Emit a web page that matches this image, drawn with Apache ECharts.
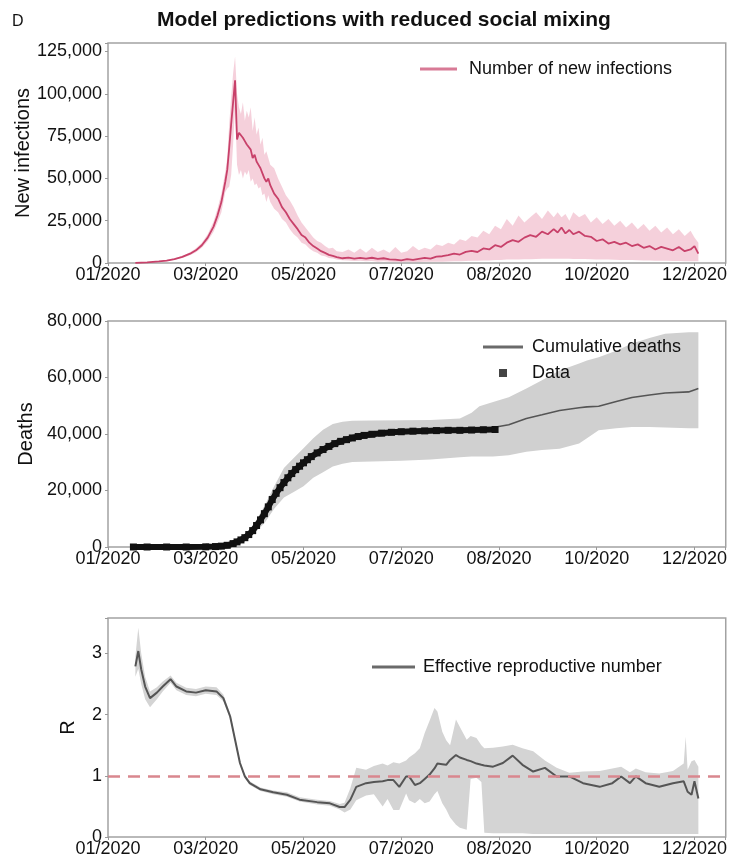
<!DOCTYPE html>
<html>
<head>
<meta charset="utf-8">
<script src="https://cdn.jsdelivr.net/npm/echarts@6/dist/echarts.min.js"></script>
<style>
  html, body { margin: 0; padding: 0; background: #fff; }
  #chart { width: 730px; height: 862px; }
</style>
</head>
<body>
<div id="chart"></div>
<script>
// x axis: days since start, one tick label every 50 days
var xTickLabels = ['01/2020', '03/2020', '05/2020', '07/2020', '08/2020', '10/2020', '12/2020'];

// panel 1 - new infections (thousands)
var infDays = [14, 20, 26, 30, 34, 38, 42, 45, 48, 51, 54, 56, 58, 60, 61, 62, 63, 64, 65, 66,
  67, 68, 69, 70, 71, 72, 73, 74, 75, 76, 77, 78, 79, 80, 81, 82, 83, 85, 87, 89,
  91, 93, 95, 97, 99, 101, 103, 105, 107, 109, 111, 113, 115, 117, 120, 123, 126, 129, 132, 135,
  138, 141, 144, 147, 150, 153, 156, 159, 162, 165, 168, 171, 174, 177, 180, 183, 186, 189, 192, 195,
  198, 201, 204, 207, 210, 213, 216, 219, 222, 225, 228, 230, 232, 234, 236, 238, 241, 244, 247, 250,
  253, 256, 259, 262, 265, 268, 271, 274, 277, 280, 283, 286, 289, 292, 295, 298, 300, 302];
var infMean = [0.1, 0.4, 0.9, 1.4, 2.3, 3.6, 5.5, 7.5, 10.5, 15, 21.5, 28, 36, 48, 55, 68, 82, 95, 108, 73,
  77, 78, 74, 72, 70, 71, 67, 62, 64, 60, 58, 56, 53, 50, 48, 50, 46, 41, 38, 33,
  30, 26, 23, 20, 16.5, 15, 12, 10, 8.5, 7, 6, 4.8, 4.2, 3.5, 2.8, 3.2, 2.6, 3.0, 2.6, 3.1,
  2.4, 2.8, 2.2, 2.0, 1.6, 2.3, 1.8, 2.4, 3.0, 2.6, 3.8, 4.0, 4.6, 5.5, 5.0, 6.6, 7.2, 6.5, 8.6, 8.0,
  10.5, 9.5, 12.0, 13.5, 12.5, 15.0, 16.5, 15.5, 18.5, 17.0, 20.0, 18.0, 21.0, 17.5, 19.5, 17.0, 18.5, 16.0, 15.5, 13.0,
  14.0, 11.5, 12.5, 11.0, 12.0, 10.0, 11.0, 9.0, 10.0, 8.0, 9.5, 8.5, 7.5, 9.5, 7.0, 8.0, 10.0, 5.5];
var infLo = [0, 0.3, 0.7, 1.1, 1.9, 3.0, 4.6, 6.4, 9.0, 13, 18.5, 24, 30, 42, 44, 45, 52, 70, 92, 58,
  52, 55, 50, 54, 52, 55, 48, 50, 46, 47, 44, 45, 40, 41, 36, 40, 36, 32, 30, 26,
  24, 20, 17, 15, 12, 11, 8.5, 7, 6, 4.5, 4, 3, 2.6, 2, 1.6, 1.5, 1.2, 1.3, 1.0, 1.2,
  0.8, 1.0, 0.7, 0.6, 0.5, 0.6, 0.5, 0.6, 0.7, 0.7, 0.8, 0.8, 0.9, 1.0, 1.0, 1.2, 1.3, 1.3, 1.5, 1.5,
  1.8, 1.8, 2.0, 2.0, 2.0, 2.2, 2.2, 2.3, 2.5, 2.5, 2.5, 2.5, 2.5, 2.5, 2.5, 2.4, 2.4, 2.3, 2.2, 2.1,
  2.0, 2.0, 1.9, 1.8, 1.8, 1.7, 1.6, 1.5, 1.5, 1.4, 1.4, 1.3, 1.2, 1.2, 1.1, 1.1, 1.0, 1.0];
var infHi = [0.2, 0.6, 1.1, 1.7, 2.7, 4.2, 6.4, 8.7, 12, 17, 24.5, 32, 41, 54, 62, 82, 98, 112, 122, 100,
  92, 88, 95, 84, 90, 86, 92, 78, 86, 76, 80, 70, 74, 64, 66, 62, 58, 56, 50, 45,
  40, 37, 33, 28, 24, 21, 18, 15, 13, 12, 10, 8.5, 9, 7, 6.5, 8, 6, 8.5, 6, 9,
  6.5, 8, 6, 9.5, 6, 7, 10, 7.5, 9, 8, 11, 10, 12, 11, 14, 13, 16, 15, 19, 17,
  22, 20, 26, 22, 28, 24, 27, 30, 26, 31, 27, 30, 27, 29, 25, 30, 27, 29, 24, 27,
  23, 26, 22, 25, 21, 24, 20, 23, 19, 22, 18, 21, 17, 20, 16, 19, 15, 12];

// panel 2 - deaths (thousands)
var deathDataDays = [13, 20, 30, 40, 50, 55, 58, 61, 64, 66, 68, 70, 72, 74, 76, 78, 80, 82, 84, 86,
  88, 90, 92, 94, 96, 98, 100, 102, 104, 107, 110, 113, 116, 119, 122, 125, 128, 131, 135, 140,
  145, 150, 156, 162, 168, 174, 180, 186, 192, 198];
var deathData = [0, 0, 0, 0, 0.05, 0.15, 0.3, 0.6, 1.2, 1.8, 2.5, 3.3, 4.4, 5.8, 7.6, 9.6, 11.8, 14.2, 16.8, 19.0,
  21.0, 22.8, 24.5, 26.0, 27.4, 28.6, 29.8, 30.9, 32.0, 33.3, 34.5, 35.6, 36.6, 37.4, 38.0, 38.6, 39.1, 39.5, 39.9, 40.3,
  40.6, 40.8, 41.0, 41.1, 41.2, 41.3, 41.3, 41.4, 41.5, 41.6];
var deathDays = [13, 60, 70, 75, 80, 85, 90, 95, 100, 105, 110, 115, 120, 125, 135, 150, 165, 180, 186, 190,
  197, 205, 214, 222, 231, 241, 245, 251, 260, 268, 277, 285, 297, 302];
var deathMean = [0, 0.4, 3.3, 6.7, 11.8, 17.9, 22.8, 26.7, 29.8, 32.4, 34.5, 36.3, 37.6, 38.6, 39.9, 40.8, 41.2, 41.3, 41.5, 41.7,
  42.3, 43.3, 45.5, 46.8, 48.3, 49.3, 49.6, 49.8, 51.5, 52.9, 53.8, 54.5, 54.9, 56.1];
var deathLo = [0, 0.2, 2.5, 5.0, 8.4, 13.5, 17.5, 19.5, 21.5, 24.5, 26.5, 28.5, 29.5, 30.1, 30.3, 30.5, 31.0, 31.8, 32.0, 32.0,
  32.0, 32.5, 33.7, 34.3, 34.8, 36.6, 38.5, 41.3, 42.0, 42.5, 42.5, 42.3, 42.0, 42.0];
var deathHi = [0, 0.6, 4.2, 8.5, 14.5, 21.5, 28.0, 31.5, 35.0, 38.5, 41.5, 43.5, 44.3, 44.7, 44.8, 44.9, 45.0, 45.5, 47.5, 49.8,
  51.3, 53.0, 56.1, 59.0, 62.5, 65.0, 66.0, 67.2, 69.5, 72.0, 74.0, 75.5, 76.0, 76.0];

// panel 3 - effective reproductive number
var rDays = [14, 15.5, 17, 19, 21.5, 25, 28, 32, 35, 40, 45, 50, 55.5, 59, 62.5, 65, 67.5, 70, 72.5, 78,
  84.5, 91.5, 98, 107, 113.5, 118.5, 121, 124, 127, 132, 136, 140.5, 143, 146, 149, 152.5, 154, 157, 159.5, 162,
  164.5, 167, 168.5, 171, 173, 175, 178, 180, 183.5, 185.5, 188.5, 191, 192.5, 197, 202, 207, 212, 217.5, 223.5, 229.5,
  236, 243, 251.5, 258, 262.5, 267, 270, 275, 282, 289, 294.5, 295.5, 296.5, 298.5, 300, 302];
var rMean = [2.79, 3.04, 2.74, 2.46, 2.27, 2.36, 2.46, 2.58, 2.46, 2.38, 2.36, 2.40, 2.38, 2.27, 1.97, 1.59, 1.21, 0.99, 0.88, 0.78,
  0.73, 0.69, 0.61, 0.57, 0.55, 0.49, 0.49, 0.61, 0.82, 0.88, 0.90, 0.91, 0.93, 0.93, 0.82, 0.99, 0.99, 0.85, 0.88, 0.95,
  1.02, 1.12, 1.20, 1.19, 1.18, 1.26, 1.34, 1.30, 1.26, 1.24, 1.20, 1.18, 1.17, 1.15, 1.21, 1.33, 1.18, 1.07, 1.13, 0.99,
  0.99, 0.88, 0.82, 0.88, 0.99, 0.88, 0.99, 0.88, 0.82, 0.88, 0.91, 0.92, 0.74, 0.69, 0.91, 0.63];
var rLo = [2.62, 2.75, 2.50, 2.25, 2.12, 2.25, 2.38, 2.52, 2.40, 2.32, 2.30, 2.34, 2.32, 2.22, 1.93, 1.55, 1.17, 0.96, 0.85, 0.75,
  0.70, 0.66, 0.58, 0.53, 0.51, 0.45, 0.40, 0.45, 0.60, 0.68, 0.70, 0.50, 0.62, 0.44, 0.44, 0.71, 0.60, 0.55, 0.62, 0.55,
  0.58, 0.70, 0.75, 0.55, 0.45, 0.32, 0.20, 0.15, 0.12, 0.95, 0.97, 0.90, 0.07, 0.06, 0.06, 0.06, 0.06, 0.05, 0.05, 0.05,
  0.05, 0.05, 0.05, 0.05, 0.05, 0.05, 0.05, 0.05, 0.05, 0.05, 0.05, 0.05, 0.05, 0.05, 0.05, 0.05];
var rHi = [2.95, 3.42, 3.00, 2.62, 2.38, 2.45, 2.54, 2.64, 2.52, 2.44, 2.42, 2.46, 2.45, 2.33, 2.02, 1.63, 1.25, 1.02, 0.91, 0.81,
  0.76, 0.73, 0.65, 0.61, 0.59, 0.54, 0.56, 0.80, 1.13, 1.10, 1.16, 1.20, 1.17, 1.22, 1.20, 1.25, 1.30, 1.37, 1.45, 1.70,
  1.90, 2.11, 2.05, 1.72, 1.58, 1.50, 1.92, 1.80, 1.59, 1.65, 1.62, 1.50, 1.45, 1.46, 1.48, 1.51, 1.45, 1.40, 1.25, 1.13,
  1.05, 1.07, 1.08, 1.12, 1.15, 1.06, 1.12, 1.06, 1.04, 1.08, 1.20, 1.64, 1.10, 1.24, 1.26, 1.15];

var FONT = "'Liberation Sans', Arial, sans-serif";

function pairs(xs, ys, scale) {
  return xs.map(function (x, i) { return [x, ys[i] * scale]; });
}

// uncertainty band: one polygon, upper edge then lower edge, through the axis scales
function bandSeries(idx, xs, lo, hi, scale, color) {
  return {
    type: 'custom', xAxisIndex: idx, yAxisIndex: idx, silent: true, clip: true, z: 1,
    encode: { x: 0, y: [1, 2] },
    data: xs.map(function (x, i) { return [x, lo[i] * scale, hi[i] * scale]; }),
    renderItem: function (params, api) {
      if (params.dataIndex !== 0) return null;
      var pts = [];
      for (var i = 0; i < xs.length; i++) pts.push(api.coord([xs[i], hi[i] * scale]));
      for (var j = xs.length - 1; j >= 0; j--) pts.push(api.coord([xs[j], lo[j] * scale]));
      return { type: 'polygon', shape: { points: pts }, style: { fill: color } };
    }
  };
}

function xAxisFor(idx) {
  return {
    type: 'value', gridIndex: idx, min: 0, max: 316, interval: 50,
    splitLine: { show: false },
    axisLine: { show: false },
    axisTick: { show: true, length: 3, lineStyle: { color: '#999' } },
    axisLabel: {
      fontFamily: FONT, fontSize: 18, color: '#111', margin: 3,
      formatter: function (v) { return (v % 50 === 0 && v <= 300) ? xTickLabels[v / 50] : ''; }
    }
  };
}
function yAxisFor(idx, max, interval, name, gap, fmt) {
  return {
    type: 'value', gridIndex: idx, min: 0, max: max, interval: interval,
    name: name, nameLocation: 'middle', nameGap: gap, nameRotate: 90, nameMoveOverlap: false,
    nameTextStyle: { fontFamily: FONT, fontSize: 20, color: '#111' },
    splitLine: { show: false },
    axisLine: { show: false },
    axisTick: { show: true, length: 3, lineStyle: { color: '#999' } },
    axisLabel: { fontFamily: FONT, fontSize: 18, color: '#111', margin: 6, formatter: fmt }
  };
}

var chart = echarts.init(document.getElementById('chart'), null, { renderer: 'canvas' });

var gridStyle = { show: true, borderColor: '#a2a2a2', borderWidth: 1.5, left: 108, right: 4 };
var legendText = function (pad) {
  return { fontFamily: FONT, fontSize: 18, color: '#111', padding: [0, 0, 0, pad] };
};

var option = {
  animation: false,
  title: [
    { text: 'D', left: 7, top: 9, textStyle: { fontFamily: FONT, fontSize: 16, fontWeight: 'normal', color: '#111' } },
    { text: 'Model predictions with reduced social mixing', left: 152, top: 5,
      textStyle: { fontFamily: FONT, fontSize: 21, fontWeight: 'bold', color: '#111' } }
  ],
  grid: [
    Object.assign({ top: 43, height: 220 }, gridStyle),
    Object.assign({ top: 321, height: 226 }, gridStyle),
    Object.assign({ top: 618, height: 219 }, gridStyle)
  ],
  xAxis: [xAxisFor(0), xAxisFor(1), xAxisFor(2)],
  yAxis: [
    yAxisFor(0, 130000, 25000, 'New infections', 75, function (v) { return v % 25000 === 0 ? v.toLocaleString('en-US') : ''; }),
    yAxisFor(1, 80000, 20000, 'Deaths', 72, function (v) { return v % 20000 === 0 ? v.toLocaleString('en-US') : ''; }),
    yAxisFor(2, 3.58, 1, 'R', 30, function (v) { return Number.isInteger(v) ? String(v) : ''; })
  ],
  legend: [
    { data: [{ name: 'Number of new infections', icon: 'rect', itemStyle: { color: '#d87a96' } }],
      left: 415, top: 55, itemWidth: 37, itemHeight: 3, selectedMode: false, textStyle: legendText(7) },
    { data: [{ name: 'Cumulative deaths', icon: 'rect', itemStyle: { color: '#6a6a6a' } }],
      left: 478, top: 333, itemWidth: 40, itemHeight: 3, selectedMode: false, textStyle: legendText(4) },
    { data: [{ name: 'Data', icon: 'rect', itemStyle: { color: '#444' } }],
      left: 494, top: 359, itemWidth: 8, itemHeight: 8, selectedMode: false, textStyle: legendText(20) },
    { data: [{ name: 'Effective reproductive number', icon: 'rect', itemStyle: { color: '#6a6a6a' } }],
      left: 367, top: 653, itemWidth: 43, itemHeight: 3, selectedMode: false, textStyle: legendText(3) }
  ],
  series: [
    // new infections band + mean
    bandSeries(0, infDays, infLo, infHi, 1000, 'rgba(232,150,176,0.45)'),
    { name: 'Number of new infections', type: 'line', xAxisIndex: 0, yAxisIndex: 0, symbol: 'none', z: 3,
      itemStyle: { color: '#c8416a' }, lineStyle: { color: '#c8416a', width: 1.8 }, data: pairs(infDays, infMean, 1000) },

    // deaths band + model + data
    bandSeries(1, deathDays, deathLo, deathHi, 1000, '#d0d0d0'),
    { name: 'Cumulative deaths', type: 'line', xAxisIndex: 1, yAxisIndex: 1, symbol: 'none', z: 3,
      itemStyle: { color: '#606060' }, lineStyle: { color: '#555', width: 1.6 }, data: pairs(deathDays, deathMean, 1000) },
    { name: 'Data', type: 'line', xAxisIndex: 1, yAxisIndex: 1, symbol: 'rect', symbolSize: 7, showSymbol: true, z: 4,
      itemStyle: { color: '#111' }, lineStyle: { color: '#111', width: 6 }, data: pairs(deathDataDays, deathData, 1000) },

    // R band + mean + R=1 line
    bandSeries(2, rDays, rLo, rHi, 1, '#d4d4d4'),
    { name: 'Effective reproductive number', type: 'line', xAxisIndex: 2, yAxisIndex: 2, symbol: 'none', z: 3,
      itemStyle: { color: '#666' }, lineStyle: { color: '#555', width: 2 }, data: pairs(rDays, rMean, 1),
      markLine: {
        silent: true, symbol: ['none', 'none'], label: { show: false },
        lineStyle: { type: [12, 8], color: '#d9878e', width: 2.5 },
        data: [{ yAxis: 1 }]
      } }
  ]
};

chart.setOption(option);
</script>
</body>
</html>
